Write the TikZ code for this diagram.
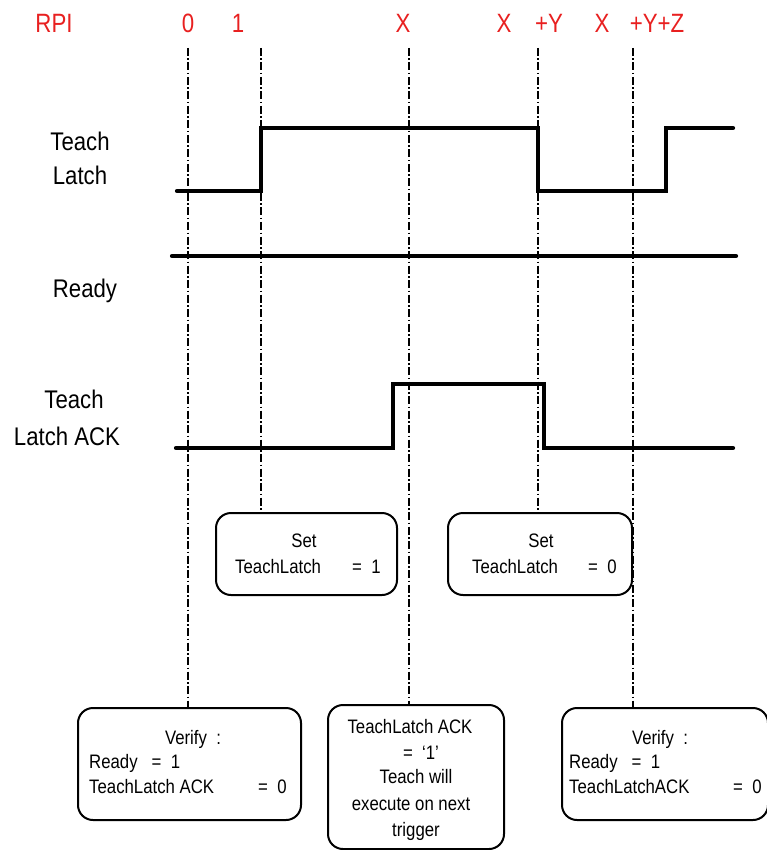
\documentclass[tikz,border=0pt]{standalone}
\usepackage{graphicx}
\usepackage{fontspec}
\setmainfont{Liberation Sans}
\newcommand{\bxs}[1]{\scalebox{0.86}[1]{#1}}
\newcommand{\lbs}[1]{\scalebox{0.87}[1]{#1}}
\newcommand{\rds}[1]{\scalebox{0.84}[1]{#1}}
\begin{document}
\begin{tikzpicture}[x=1pt,y=-1pt,
  sig/.style={line width=4.2pt,line cap=round,line join=miter},
  guide/.style={line width=1.4pt,dash pattern=on 8pt off 2.5pt on 1.5pt off 2.5pt},
  lbl/.style={anchor=base,inner sep=0pt,font=\fontsize{25.5}{30}\selectfont},
  rpi/.style={anchor=base,inner sep=0pt,text=rpired,font=\fontsize{26.5}{30}\selectfont},
  bx/.style={draw,line width=2pt,rounded corners=15pt,inner sep=0pt},
  bt/.style={anchor=base,font=\fontsize{19.5}{22}\selectfont,inner sep=0pt},
  btl/.style={anchor=base west,font=\fontsize{19.5}{22}\selectfont,inner sep=0pt}]
\definecolor{rpired}{RGB}{232,32,32}
\useasboundingbox (0,0) rectangle (766,850);
% red time labels
\node[rpi] (rRPI) at (54,33) {\rds{RPI}};
\node[rpi] (r0) at (188,33) {\rds{0}};
\node[rpi] (r1) at (238,33) {\rds{1}};
\node[rpi] (rX1) at (403,33) {\rds{X}};
\node[rpi] (rX2) at (504,33) {\rds{X}};
\node[rpi] (rY2) at (549,33) {\rds{+Y}};
\node[rpi] (rX3) at (602,33) {\rds{X}};
\node[rpi] (rYZ) at (657,33) {\rds{+Y+Z}};
% signal labels
\node[lbl] (tl1) at (80,151) {\lbs{Teach}};
\node[lbl] (tl2) at (80,185) {\lbs{Latch}};
\node[lbl] (rd) at (85,297) {\lbs{Ready}};
\node[lbl] (ta1) at (74,408) {\lbs{Teach}};
\node[lbl] (ta2) at (67,445) {\lbs{Latch ACK}};
% boxes
\node[bx,minimum width=181pt,minimum height=82pt] (set1) at (306.5,554) {};
\node[bx,minimum width=184pt,minimum height=82pt] (set0) at (540,554) {};
\node[bx,minimum width=223pt,minimum height=112pt] (ver1) at (189.5,764) {};
\node[bx,minimum width=176pt,minimum height=144pt] (mid) at (416,777) {};
\node[bx,minimum width=206pt,minimum height=112pt] (ver2) at (665,764) {};
% box texts
\node[bt] (s1a) at (304,547) {\bxs{Set}};
\node[btl] (s1b) at (235,573) {\bxs{TeachLatch}};
\node[btl] (s1c) at (352,573) {\bxs{=\ \ 1}};
\node[bt] (s0a) at (541,547) {\bxs{Set}};
\node[btl] (s0b) at (472,573) {\bxs{TeachLatch}};
\node[btl] (s0c) at (588,573) {\bxs{=\ \ 0}};
\node[bt] (v1a) at (193,744) {\bxs{Verify\ \ :}};
\node[btl] (v1b) at (89,768) {\bxs{Ready\ \ \ =\ \ 1}};
\node[btl] (v1c) at (89,793) {\bxs{TeachLatch ACK}};
\node[btl] (v1d) at (258,793) {\bxs{=\ \ 0}};
\node[bt] (m1) at (410,733) {\bxs{TeachLatch ACK}};
\node[bt] (m2) at (421,759) {\bxs{=\ \ ‘1’}};
\node[bt] (m3) at (416,783) {\bxs{Teach will}};
\node[bt] (m4) at (411,810) {\bxs{execute on next}};
\node[bt] (m5) at (416,836) {\bxs{trigger}};
\node[bt] (v2a) at (660,744) {\bxs{Verify\ \ :}};
\node[btl] (v2b) at (569,768) {\bxs{Ready\ \ \ =\ \ 1}};
\node[btl] (v2c) at (569,793) {\bxs{TeachLatchACK}};
\node[btl] (v2d) at (733,793) {\bxs{=\ \ 0}};
% guide lines
\coordinate (g0) at (188,48);
\coordinate (g1) at (261,48);
\coordinate (gX) at (409,48);
\coordinate (gY) at (538,48);
\coordinate (gZ) at (633,48);
\draw[guide] (g0) -- (g0 |- ver1.north);
\draw[guide] (g1) -- (g1 |- set1.north);
\draw[guide] (gX) -- (gX |- mid.north);
\draw[guide] (gY) -- (gY |- set0.north);
\draw[guide] (gZ) -- (gZ |- ver2.north);
% signals
\draw[sig] (177,191) -- (261,191) -- (261,128) -- (538,128) -- (538,191) -- (666,191) -- (666,128) -- (733,128);
\draw[sig] (172,256) -- (736,256);
\draw[sig] (176,448) -- (393,448) -- (393,384) -- (544,384) -- (544,448) -- (733,448);
\end{tikzpicture}
\end{document}
